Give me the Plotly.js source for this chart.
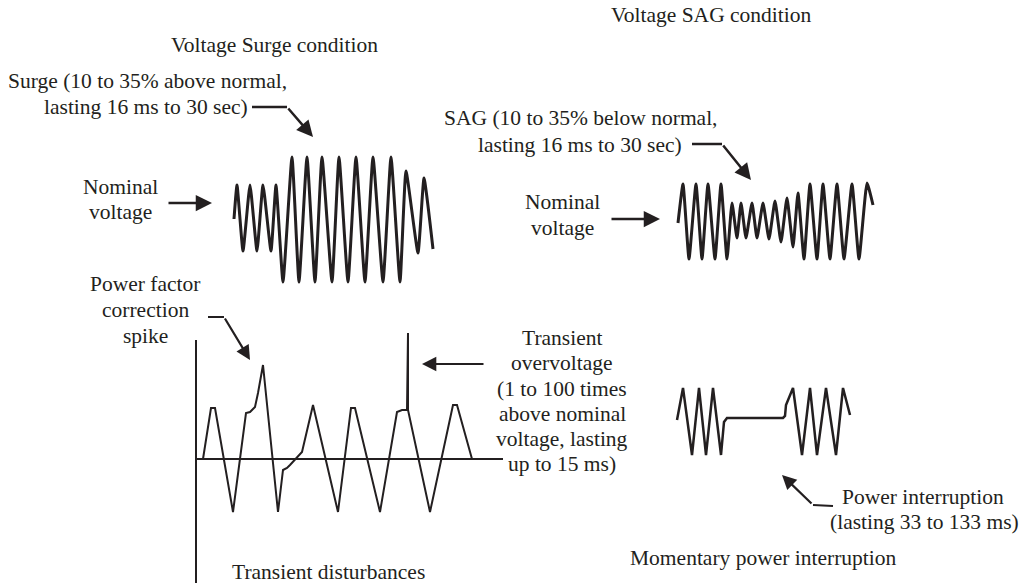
<!DOCTYPE html>
<html>
<head>
<meta charset="utf-8">
<script src="https://cdn.plot.ly/plotly-3.0.1.min.js"></script>
<style>html,body{margin:0;padding:0;background:#fff;}#chart{width:1024px;height:583px;}</style>
</head>
<body>
<div id="chart"></div>
<script>
// Waveform vertices (page pixel coordinates)
var surgeX = [234,237,243,250,257,263,271,276,283,292,299,307,315,322,332,339,348,356,365,373,383,391,400,406,418,424,433];
var surgeY = [219,185,251,185,251,185,251,185,282,157,282,157,282,157,282,157,282,157,282,157,282,157,282,171,253,178,249];

var sagX = [678,683,689,696,702,708,715,721,727,732,737,741,746,752,757,763,769,775,781,787,793,798,804,810,817,823,830,837,844,852,859,867,873];
var sagY = [223,184,259,184,259,184,259,184,259,203,238,203,238,203,238,203,239,201,242,198,247,193,259,184,259,184,259,184,259,184,259,183,205];

var interX = [677,683,692,699,706,713,721,724,727,783,785,786,793,802,810,817,826,836,843,850];
var interY = [420,388,455,388,455,388,455,422,418,418,416,405,388,455,388,455,388,455,388,415];

var transX = [203,211,215,233,246,250,255,258,263,278,283,287,290,297,302,313,338,351,355,380,397,402,407,408,408,430,453,457,472];
var transY = [459,408,408,512,413,412,407,393,365,512,470,468,465,458,452,405,512,408,408,512,412,410,410,333,410,512,405,405,459];

var axisVX = [196,196], axisVY = [340,583];
var axisHX = [196,503], axisHY = [459,459];

// Arrow tail segments (horizontal leaders)
var surgeLeadX = [252,287], surgeLeadY = [107,107];
var sagLeadX = [692,722], sagLeadY = [144,144];
var pfLeadX = [208,224], pfLeadY = [317,317];
var interLeadX = [813,833], interLeadY = [505,506];

// Text lines
var labelText = [
  'Voltage Surge condition', 'Voltage SAG condition',
  'Surge (10 to 35% above normal,', 'lasting 16 ms to 30 sec)',
  'Nominal', 'voltage',
  'SAG (10 to 35% below normal,', 'lasting 16 ms to 30 sec)',
  'Nominal', 'voltage',
  'Power factor', 'correction', 'spike',
  'Transient', 'overvoltage', '(1 to 100 times', 'above nominal', 'voltage, lasting', 'up to 15 ms)',
  'Power interruption', '(lasting 33 to 133 ms)',
  'Momentary power interruption', 'Transient disturbances'
];
var labelX = [274,711, 147,146, 120,120, 581,580, 562,562, 145,145,145, 562,562,562,562,562,562, 923,924, 763,328];
var labelY = [45,15, 81,107, 187,212, 118,145, 202,228, 284,310,336, 338,363,389,414,439,464, 497,522, 558,572];

var ink = '#231f20';
var FONT = 'Liberation Serif';
function line(x, y, w, shape) {
  return {x:x, y:y, type:'scatter', mode:'lines', hoverinfo:'skip',
    line:{color:ink, width:w, shape:shape||'linear', smoothing:0.4}};
}

var traces = [
  line(surgeX, surgeY, 3, 'spline'),
  line(sagX, sagY, 3, 'spline'),
  line(interX, interY, 2.5),
  line(transX, transY, 2),
  line(axisVX, axisVY, 2),
  line(axisHX, axisHY, 2),
  line(surgeLeadX, surgeLeadY, 2.5),
  line(sagLeadX, sagLeadY, 2.5),
  line(pfLeadX, pfLeadY, 2),
  line(interLeadX, interLeadY, 2)
];

var annotations = labelText.map(function(t, i){
  return {text:t, x:labelX[i], y:labelY[i], xref:'x', yref:'y', showarrow:false,
    xanchor:'center', yanchor:'middle', align:'center',
    font:{family:FONT, size:21.5, color:ink}};
});

function arrow(tx, ty, fx, fy, w) {
  return {text:'', x:tx, y:ty, ax:fx, ay:fy, xref:'x', yref:'y', axref:'x', ayref:'y',
    showarrow:true, arrowhead:2, arrowsize:1.3, arrowwidth:w||2.5, arrowcolor:ink, standoff:0};
}
annotations.push(arrow(313,137,287,107));
annotations.push(arrow(212,203,167,203));
annotations.push(arrow(751,180,722,144));
annotations.push(arrow(660,219,610,219));
annotations.push(arrow(250,360,224,317,2.2));
annotations.push(arrow(422,364,485,364,2.2));
annotations.push(arrow(782,475,813,505,2.2));

var layout = {
  width:1024, height:583,
  margin:{l:0,r:0,t:0,b:0},
  paper_bgcolor:'#fff', plot_bgcolor:'#fff',
  showlegend:false,
  font:{family:FONT},
  xaxis:{range:[0,1024], visible:false, fixedrange:true},
  yaxis:{range:[583,0], visible:false, fixedrange:true},
  annotations:annotations
};

Plotly.newPlot('chart', traces, layout, {staticPlot:true, displayModeBar:false});
</script>
</body>
</html>
